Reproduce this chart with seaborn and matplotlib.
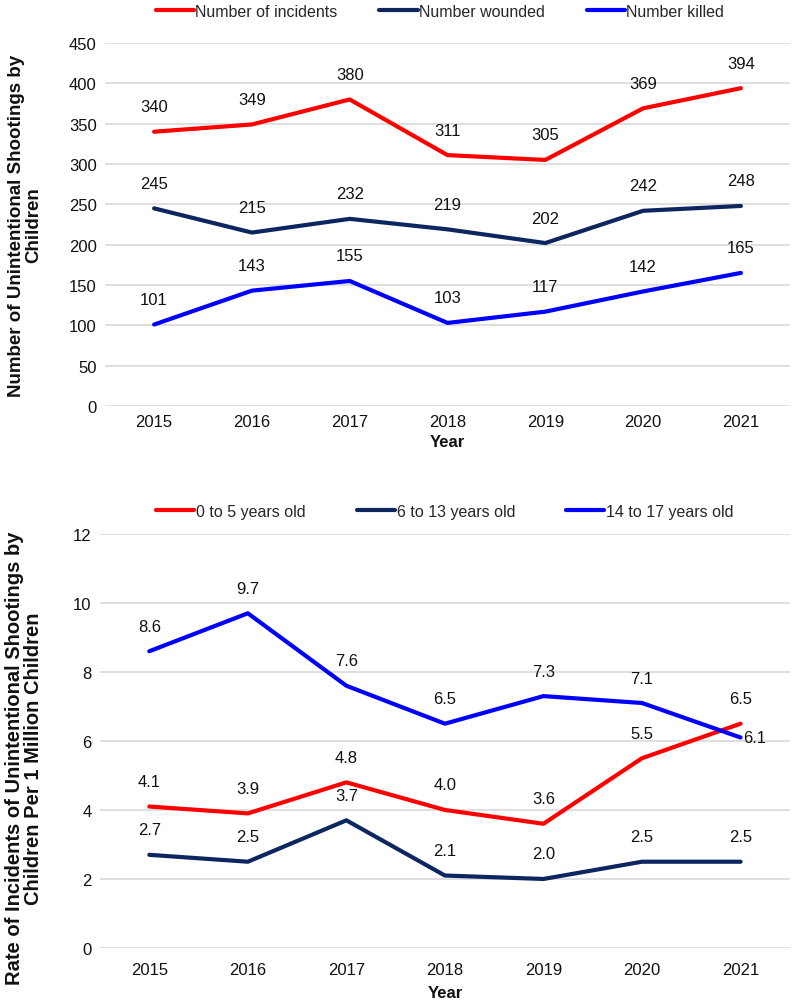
import pandas as pd
import matplotlib.pyplot as plt
import seaborn as sns

# Datos
years = ["2015", "2016", "2017", "2018", "2019", "2020", "2021"]

incidents = [340, 349, 380, 311, 305, 369, 394]
wounded = [245, 215, 232, 219, 202, 242, 248]
killed = [101, 143, 155, 103, 117, 142, 165]

rate_0_5 = [4.1, 3.9, 4.8, 4.0, 3.6, 5.5, 6.5]
rate_6_13 = [2.7, 2.5, 3.7, 2.1, 2.0, 2.5, 2.5]
rate_14_17 = [8.6, 9.7, 7.6, 6.5, 7.3, 7.1, 6.1]

top_series = {"Number of incidents": incidents,
              "Number wounded": wounded,
              "Number killed": killed}
bottom_series = {"0 to 5 years old": rate_0_5,
                 "6 to 13 years old": rate_6_13,
                 "14 to 17 years old": rate_14_17}

colors = ["#FF0000", "#0D2660", "#0000FF"]


def to_long(series):
    rows = []
    for name, vals in series.items():
        for y, v in zip(years, vals):
            rows.append({"Year": y, "value": v, "series": name})
    return pd.DataFrame(rows)


sns.set_theme(style="white")
plt.rcParams["font.family"] = ["Liberation Sans", "DejaVu Sans"]

fig = plt.figure(figsize=(7.97, 10.04), dpi=100)
ax1 = fig.add_axes([0.132, 0.5946, 0.859, 0.3616])
ax2 = fig.add_axes([0.1255, 0.0548, 0.8655, 0.4124])


def draw(ax, series, ymax, ystep, fmt, ylabel, ylabel_size, special=None):
    df = to_long(series)
    sns.lineplot(data=df, x="Year", y="value", hue="series", palette=colors,
                 linewidth=3, ax=ax, sort=False)
    ax.set_xlim(-0.5, len(years) - 0.5)
    ax.set_ylim(0, ymax)
    ax.set_yticks([i * ystep for i in range(int(round(ymax / ystep)) + 1)])
    ax.yaxis.grid(True, color="#D9D9D9", linewidth=1.2)
    ax.set_axisbelow(True)
    for s in ax.spines.values():
        s.set_visible(False)
    ax.tick_params(axis="both", labelsize=12, colors="#111111", length=0, pad=6)
    ax.set_xlabel("Year", fontsize=12, fontweight="bold", color="#111111")
    ax.set_ylabel(ylabel, fontsize=ylabel_size, fontweight="bold",
                  color="#111111", linespacing=1.0)
    # etiquetas de datos
    for name, vals in series.items():
        for i, v in enumerate(vals):
            if special and (name, i) in special:
                ax.annotate(fmt.format(v), (i, v), xytext=(2, 0),
                            textcoords="offset points", ha="left", va="center",
                            fontsize=12, color="#111111")
            else:
                ax.annotate(fmt.format(v), (i, v), xytext=(0, 18),
                            textcoords="offset points", ha="center", va="center",
                            fontsize=12, color="#111111")
    ax.get_legend().remove()


draw(ax1, top_series, 450, 50, "{:d}",
     "Number of Unintentional Shootings by\nChildren", 13.5)
draw(ax2, bottom_series, 12, 2, "{:.1f}",
     "Rate of Incidents of Unintentional Shootings by\nChildren Per 1 Million Children",
     14.5, special={("14 to 17 years old", 6)})

ax1.xaxis.labelpad = 3
ax2.xaxis.labelpad = 6
ax2.tick_params(axis="x", pad=10)
ax1.yaxis.set_label_coords(-0.092, 0.5)
ax2.yaxis.set_label_coords(-0.082, 0.46)

# leyendas
h1, l1 = ax1.get_legend_handles_labels()
fig.legend(h1, l1, ncol=3, frameon=False, fontsize=11.5, loc="center",
           bbox_to_anchor=(0.552, 0.988), handlelength=2.4, handletextpad=0.1,
           columnspacing=2.6)
h2, l2 = ax2.get_legend_handles_labels()
fig.legend(h2, l2, ncol=3, frameon=False, fontsize=11.5, loc="center",
           bbox_to_anchor=(0.558, 0.49), handlelength=2.4, handletextpad=0.1,
           columnspacing=3.2)

fig.savefig("out.png", dpi=100)
